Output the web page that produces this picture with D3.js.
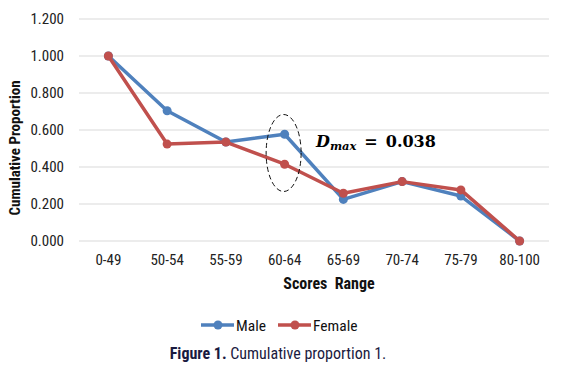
<!DOCTYPE html>
<html><head><meta charset="utf-8">
<script src="https://cdn.jsdelivr.net/npm/d3@7"></script>
<style>
body{margin:0;background:#fff;}
svg{display:block;}
</style></head>
<body><svg id="chart" width="564" height="366"></svg>
<script>
const categories = ["0-49","50-54","55-59","60-64","65-69","70-74","75-79","80-100"];
const maleValues = [1.000,0.704,0.535,0.577,0.225,0.321,0.243,0.000];
const femaleValues = [1.000,0.524,0.535,0.415,0.258,0.321,0.276,0.000];
const yTicks = [0,0.2,0.4,0.6,0.8,1.0,1.2];
const seriesNames = ["Male","Female"];
const seriesColors = ["#4F81BD","#C0504D"];

const svg = d3.select("#chart");
const font = '"Liberation Sans Narrow","Roboto Condensed","Roboto",sans-serif';
const plotLeft = 79, plotRight = 549, plotTop = 19, plotBottom = 241;

const x = d3.scaleBand().domain(categories).range([plotLeft, plotRight]);
const y = d3.scaleLinear().domain([0, 1.2]).range([plotBottom, plotTop]);

// gridlines
svg.append("g").selectAll("line").data(yTicks).join("line")
  .attr("x1", plotLeft).attr("x2", plotRight)
  .attr("y1", d => y(d)).attr("y2", d => y(d))
  .attr("stroke", "#d9d9d9").attr("stroke-width", 1);

// y axis labels
const yAxis = d3.axisLeft(y).tickValues(yTicks).tickFormat(d3.format(".3f")).tickSize(0).tickPadding(0);
const yg = svg.append("g").attr("transform", `translate(${plotLeft-15},0)`).call(yAxis);
yg.select(".domain").remove();
yg.selectAll("text").attr("font-family", font).attr("font-size", 15).attr("fill", "#222");

// x axis labels
const xAxis = d3.axisBottom(x).tickSize(0).tickPadding(0);
const xg = svg.append("g").attr("transform", `translate(0,${plotBottom+13})`).call(xAxis);
xg.select(".domain").remove();
xg.selectAll("text").attr("font-family", font).attr("font-size", 15).attr("fill", "#222");

// axis titles
svg.append("text").attr("transform", `translate(20,148) rotate(-90)`)
  .attr("text-anchor", "middle").attr("font-family", font).attr("font-weight", "bold")
  .attr("font-size", 15).attr("fill", "#111").text("Cumulative Proportion");
svg.append("text").attr("x", 329).attr("y", 289)
  .attr("text-anchor", "middle").attr("font-family", font).attr("font-weight", "bold")
  .attr("font-size", 16).attr("fill", "#111").style("white-space","pre").text("Scores  Range");

// lines
const series = [maleValues, femaleValues];
const line = d3.line().x((d, i) => x(categories[i]) + x.bandwidth()/2).y(d => y(d));
series.forEach((vals, si) => {
  const g = svg.append("g");
  g.append("path").datum(vals).attr("d", line).attr("fill", "none")
    .attr("stroke", seriesColors[si]).attr("stroke-width", 3.5).attr("stroke-linejoin", "round");
  g.selectAll("circle").data(vals).join("circle")
    .attr("cx", (d, i) => x(categories[i]) + x.bandwidth()/2)
    .attr("cy", d => y(d)).attr("r", 4.5).attr("fill", seriesColors[si]);
});

// ellipse annotation
svg.append("ellipse").attr("cx", x("60-64") + x.bandwidth()/2 - 1).attr("cy", 153)
  .attr("rx", 17.5).attr("ry", 38.5).attr("fill", "none")
  .attr("stroke", "#111").attr("stroke-width", 1).attr("stroke-dasharray", "5,3");

const t = svg.append("text").attr("x", 316).attr("y", 147)
  .attr("font-family", "DejaVu Serif, serif").attr("font-size", 16).attr("fill", "#000");
t.append("tspan").attr("font-weight", "bold").attr("font-style", "italic").text("D");
t.append("tspan").attr("font-weight", "bold").attr("font-style", "italic").attr("font-size", 11.5).attr("dy", 3).text("max");
t.append("tspan").attr("font-weight", "bold").attr("dy", -3).attr("dx", 8).text("=");
t.append("tspan").attr("font-weight", "bold").attr("dx", 8).text("0.038");

// legend
const legendPos = [{x: 201, tx: 236}, {x: 278, tx: 313}];
seriesNames.forEach((name, i) => {
  const lg = svg.append("g");
  lg.append("line").attr("x1", legendPos[i].x).attr("x2", legendPos[i].x + 33)
    .attr("y1", 325).attr("y2", 325).attr("stroke", seriesColors[i]).attr("stroke-width", 3.5);
  lg.append("circle").attr("cx", legendPos[i].x + 17).attr("cy", 325).attr("r", 4.5).attr("fill", seriesColors[i]);
  lg.append("text").attr("x", legendPos[i].tx).attr("y", 330.5).attr("font-family", font)
    .attr("font-size", 15.5).attr("fill", "#111").text(name);
});

// caption
const cap = svg.append("text").attr("x", 278).attr("y", 359).attr("text-anchor", "middle")
  .attr("font-family", font).attr("font-size", 16).attr("fill", "#1a1a40");
cap.append("tspan").attr("font-weight", "bold").text("Figure 1.");
cap.append("tspan").text(" Cumulative proportion 1.");
</script></body></html>
